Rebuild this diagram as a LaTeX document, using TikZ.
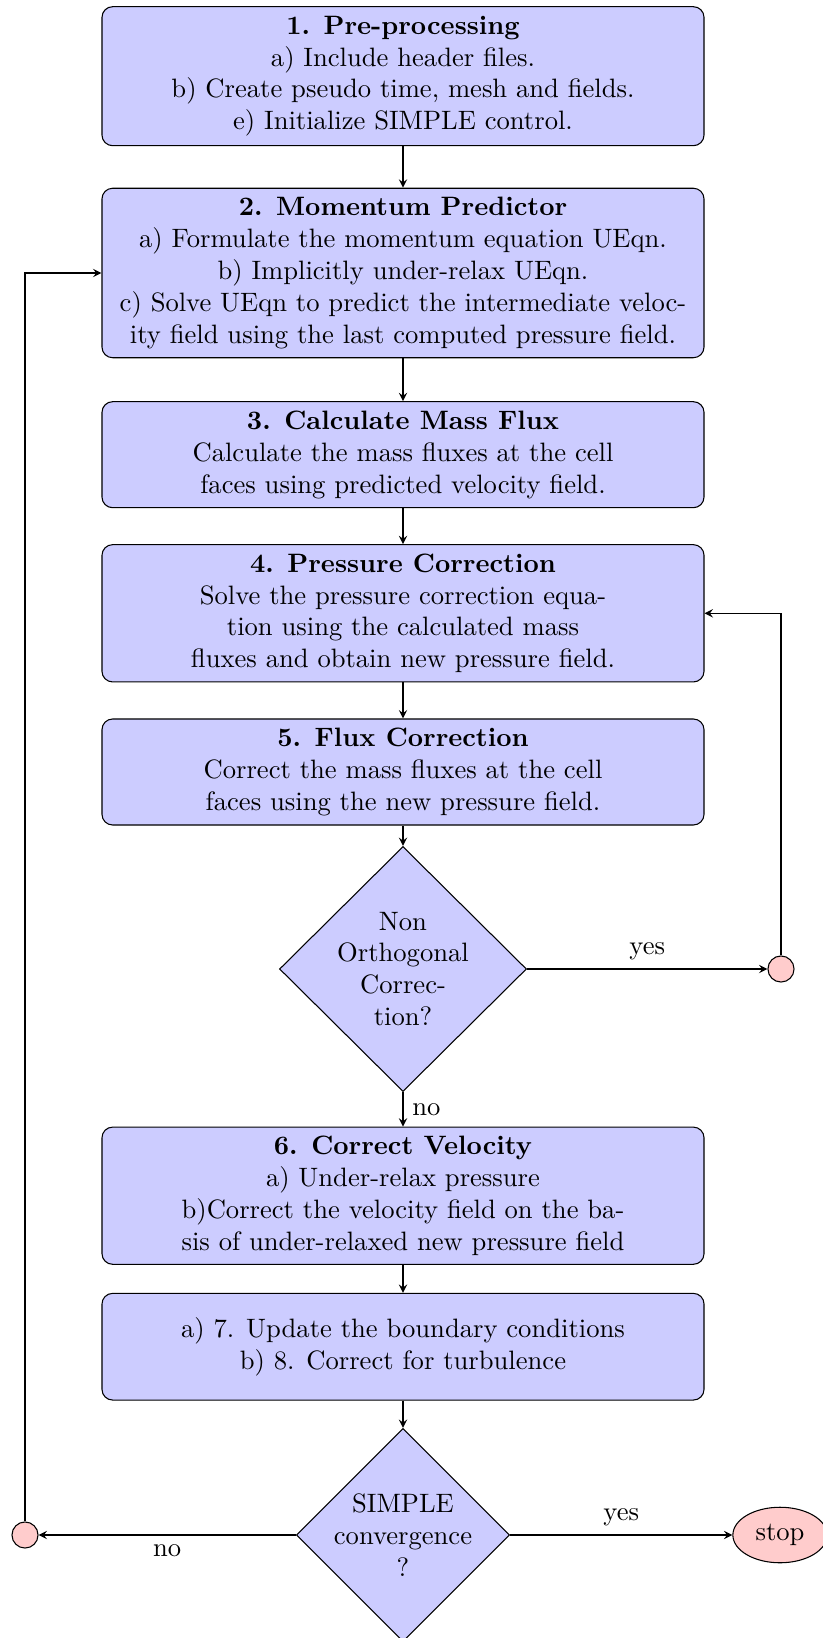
\documentclass[tikz,border=0pt]{standalone}
\usetikzlibrary{shapes.geometric,arrows}
\tikzset{
  box/.style={draw, fill=blue!20, rounded corners=4pt, align=center, minimum width=226.3pt, inner sep=3.33pt},
  dia/.style={draw, fill=blue!20, diamond, inner sep=0pt},
  dtext/.style={align=center, inner sep=0pt},
  conn/.style={draw, fill=red!20, circle, minimum size=9.8pt, inner sep=0pt},
  term/.style={draw, fill=red!20, ellipse},
  arr/.style={-stealth}
}
\begin{document}
\begin{tikzpicture}[x=0.3759pt, y=-0.3759pt]
\useasboundingbox (0,0) rectangle (822,1638);

\node[box, minimum height=52.25pt] (b1) at (403,76.2) {\textbf{1. Pre-processing}\\
a) Include header files.\\
b) Create pseudo time, mesh and fields.\\
e) Initialize SIMPLE control.};

\node[box, minimum height=63.7pt] (b2) at (403,273) {\textbf{2. Momentum Predictor}\\
a) Formulate the momentum equation UEqn.\\
b) Implicitly under-relax UEqn.\\
c) Solve UEqn to predict the intermediate veloc-\\
ity field using the last computed pressure field.};

\node[box, minimum height=39.85pt] (b3) at (403,454.7) {\textbf{3. Calculate Mass Flux}\\
Calculate the mass fluxes at the cell\\
faces using predicted velocity field.};

\node[box, minimum height=51.6pt] (b4) at (403,613.3) {\textbf{4. Pressure Correction}\\
Solve the pressure correction equa-\\
tion using the calculated mass\\
fluxes and obtain new pressure field.};

\node[box, minimum height=39.85pt] (b5) at (403,772) {\textbf{5. Flux Correction}\\
Correct the mass fluxes at the cell\\
faces using the new pressure field.};

\node[dia, minimum width=92.85pt, minimum height=92.1pt] (d1) at (403,969) {};
\node[dtext] (d1t) at (d1.center) {Non\\Orthogonal\\Correc-\\tion?};

\node[conn] (rc) at (781,969) {};

\node[box, minimum height=51.4pt] (b6) at (403,1195.7) {\textbf{6. Correct Velocity}\\
a) Under-relax pressure\\
b)Correct the velocity field on the ba-\\
sis of under-relaxed new pressure field};

\node[box, minimum height=40.1pt] (b7) at (403,1346.7) {a) 7. Update the boundary conditions\\
b) 8. Correct for turbulence};

\node[dia, minimum width=80.1pt, minimum height=80.1pt] (d2) at (403,1535) {};
\node[dtext] (d2t) at (d2.center) {SIMPLE\\convergence\\?};

\node[conn] (lc) at (25,1535) {};
\node[term] (stop) at (780,1535) {stop};

\draw[arr] (b1) -- (b2);
\draw[arr] (b2) -- (b3);
\draw[arr] (b3) -- (b4);
\draw[arr] (b4) -- (b5);
\draw[arr] (b5) -- (d1);
\draw[arr] (d1) -- node[above] {yes} (rc);
\draw[arr] (rc) |- (b4);
\draw[arr] (d1) -- node[right] {no} (b6);
\draw[arr] (b6) -- (b7);
\draw[arr] (b7) -- (d2);
\draw[arr] (d2) -- node[above] {yes} (stop);
\draw[arr] (d2) -- node[below] {no} (lc);
\draw[arr] (lc) |- (b2);
\end{tikzpicture}
\end{document}
